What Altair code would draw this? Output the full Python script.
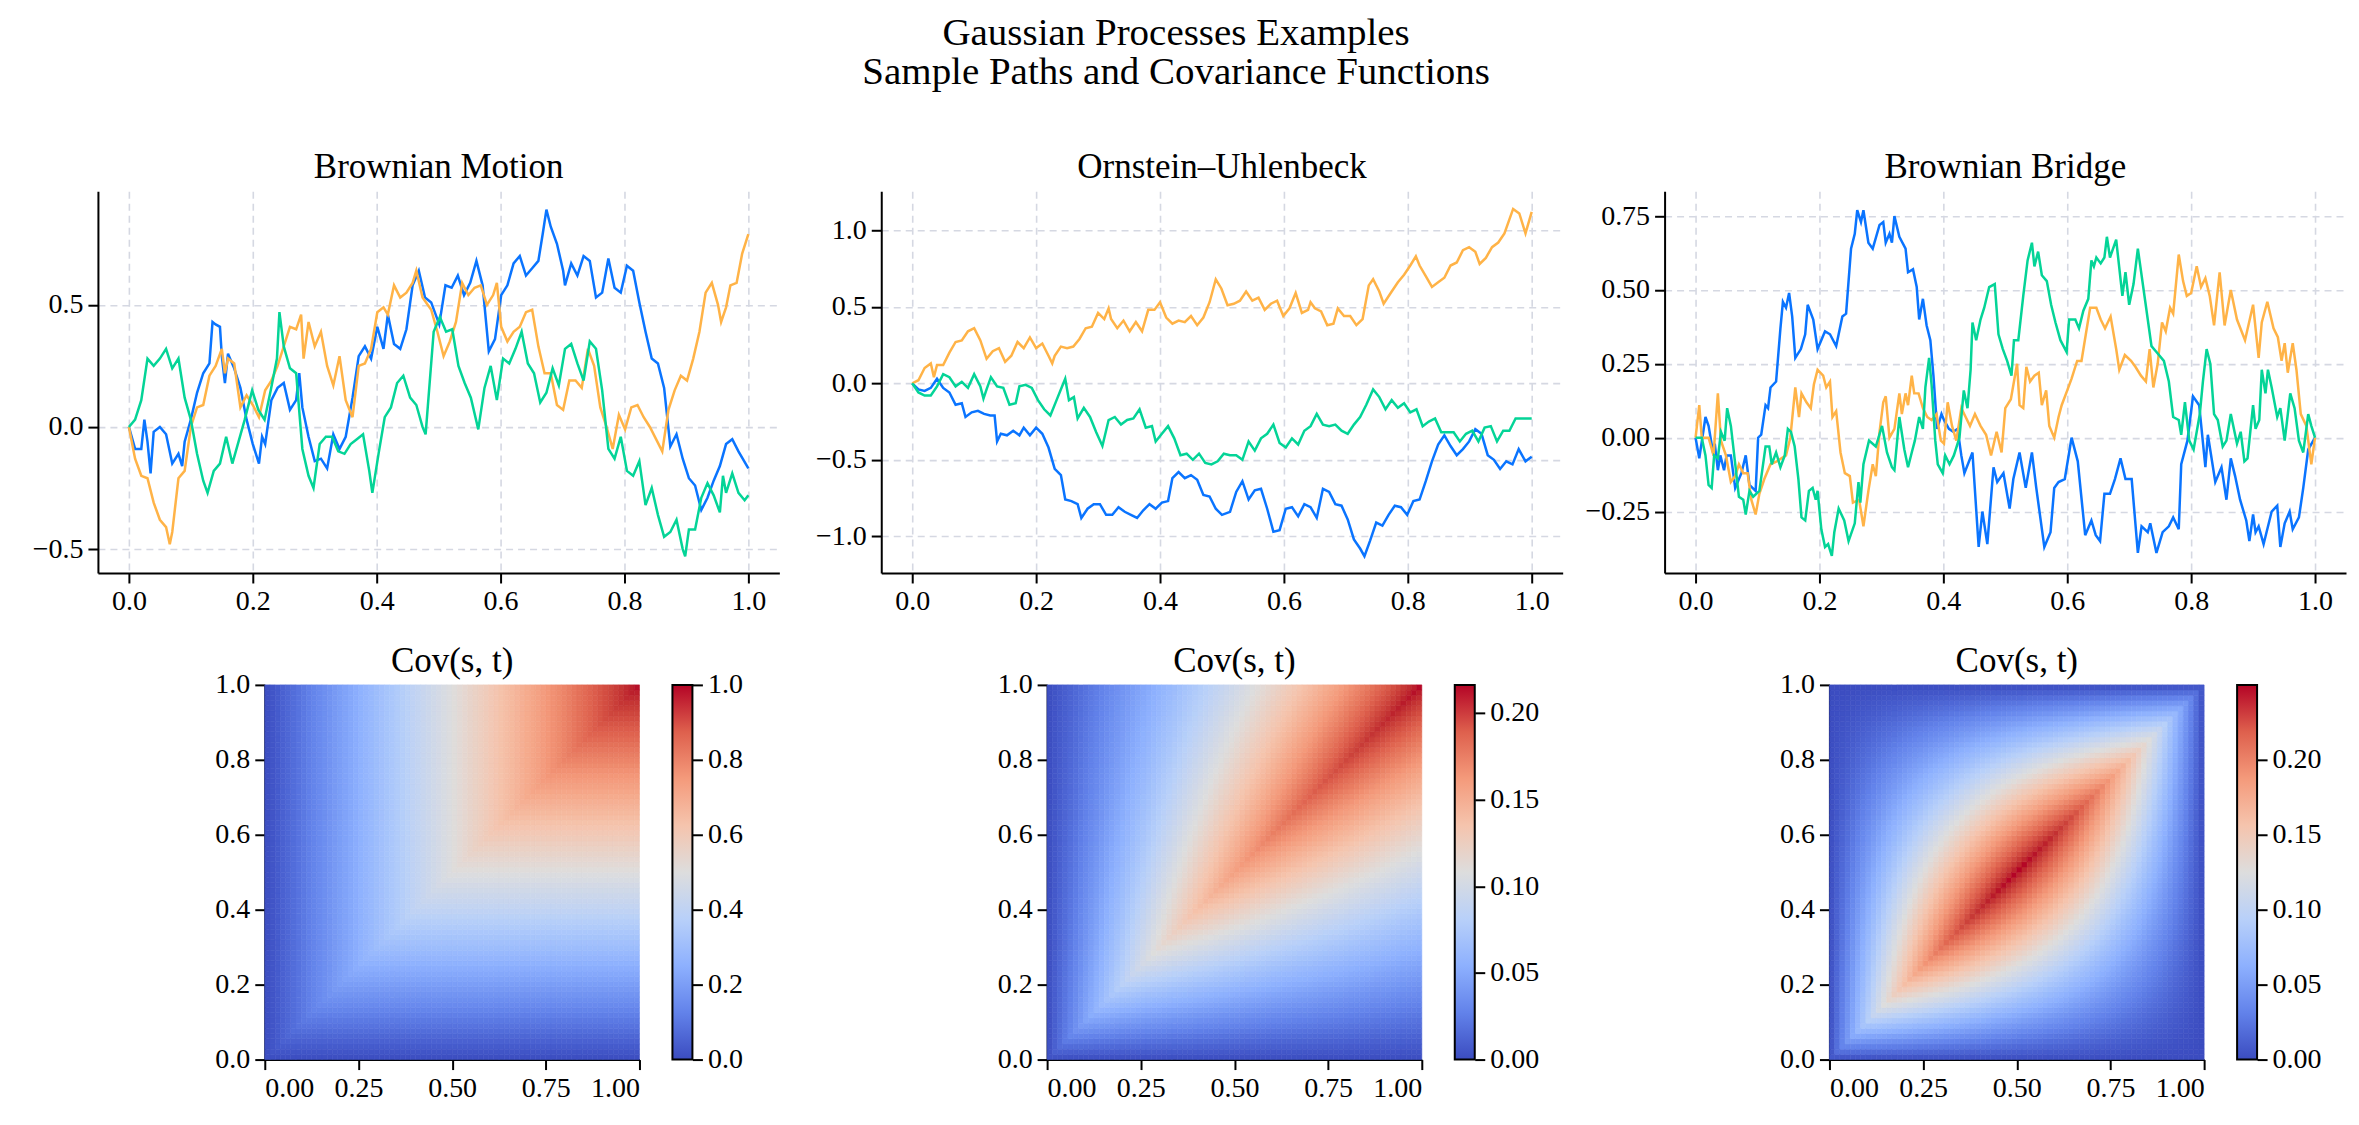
import math
import altair as alt
import pandas as pd

FONT = "Liberation Serif"
BLUE, ORANGE, GREEN = "#0A74FF", "#FFB347", "#04D497"
PATH_NAMES = ["path 1", "path 2", "path 3"]
PATH_COLORS = [BLUE, ORANGE, GREEN]

# ---------------- sample paths: (t, value) ----------------
BM_BLUE = [(0, 0.0), (.01, -.09), (.02, -.09), (.025, .03), (.03, -.06), (.035, -.19), (.04, -.02), (.05, 0.0),
           (.06, -.03), (.07, -.15), (.08, -.11), (.086, -.16), (.09, -.06), (.10, .03), (.11, .14), (.12, .22),
           (.13, .26), (.135, .43), (.14, .42), (.147, .41), (.15, .29), (.155, .18), (.16, .30), (.17, .24),
           (.18, .16), (.19, .03), (.20, -.07), (.21, -.15), (.215, -.04), (.22, -.07), (.23, .11), (.24, .16),
           (.25, .18), (.26, .07), (.27, .11), (.275, .22), (.28, .08), (.29, -.04), (.30, -.14), (.31, -.13),
           (.32, -.17), (.33, -.03), (.34, -.09), (.35, -.04), (.361, .12), (.371, .29), (.381, .33), (.391, .28),
           (.401, .41), (.411, .32), (.418, .46), (.428, .34), (.438, .32), (.448, .40), (.458, .58), (.468, .64),
           (.478, .53), (.488, .51), (.501, .42), (.511, .58), (.521, .57), (.531, .62), (.541, .54), (.551, .59),
           (.561, .68), (.571, .58), (.581, .31), (.591, .36), (.601, .54), (.611, .58), (.621, .67), (.631, .70),
           (.641, .62), (.651, .65), (.661, .68), (.668, .79), (.674, .89), (.681, .82), (.691, .75), (.701, .64),
           (.704, .58), (.714, .67), (.724, .62), (.734, .70), (.744, .68), (.754, .53), (.764, .55), (.774, .69),
           (.784, .57), (.794, .55), (.804, .66), (.814, .64), (.824, .51), (.834, .39), (.844, .28), (.854, .26),
           (.864, .16), (.874, -.08), (.884, -.03), (.894, -.13), (.904, -.21), (.914, -.24), (.924, -.34),
           (.934, -.29), (.944, -.22), (.954, -.16), (.964, -.07), (.974, -.05), (.984, -.10), (1.0, -.17)]
BM_ORANGE = [(0, 0.0), (.01, -.13), (.02, -.20), (.03, -.21), (.04, -.31), (.05, -.38), (.06, -.41), (.066, -.48),
             (.07, -.43), (.08, -.21), (.09, -.18), (.10, 0.0), (.11, .08), (.12, .09), (.13, .21), (.14, .25),
             (.15, .32), (.155, .22), (.16, .28), (.17, .26), (.18, .08), (.19, .13), (.20, .09), (.21, .04),
             (.22, .15), (.23, .19), (.24, .25), (.25, .33), (.26, .41), (.27, .40), (.278, .46), (.282, .28),
             (.29, .43), (.30, .33), (.31, .39), (.32, .25), (.33, .17), (.34, .29), (.35, .11), (.361, .04),
             (.371, .25), (.381, .26), (.391, .32), (.401, .47), (.411, .49), (.418, .46), (.428, .58), (.438, .53),
             (.448, .55), (.458, .59), (.464, .64), (.474, .53), (.488, .48), (.498, .39), (.508, .29), (.518, .35),
             (.528, .43), (.538, .59), (.548, .54), (.558, .57), (.568, .58), (.578, .50), (.588, .54), (.594, .59),
             (.601, .41), (.611, .35), (.621, .39), (.631, .41), (.641, .47), (.651, .48), (.661, .33), (.671, .22),
             (.681, .22), (.691, .09), (.701, .07), (.711, .19), (.721, .19), (.731, .16), (.741, .32), (.751, .25),
             (.761, .08), (.771, 0.0), (.781, -.09), (.791, .05), (.801, -.01), (.811, .08), (.821, .09), (.831, .04),
             (.841, 0.0), (.851, -.05), (.861, -.10), (.871, .07), (.881, .15), (.891, .21), (.901, .19), (.911, .28),
             (.921, .39), (.931, .55), (.941, .59), (.951, .50), (.956, .43), (.964, .49), (.971, .58), (.981, .59),
             (.99, .71), (1.0, .79)]
BM_GREEN = [(0, 0.0), (.01, .03), (.02, .11), (.03, .28), (.04, .25), (.05, .28), (.06, .32), (.07, .24), (.08, .28),
            (.09, .12), (.10, .03), (.11, -.11), (.12, -.22), (.127, -.27), (.137, -.18), (.147, -.15), (.157, -.04),
            (.167, -.15), (.177, -.06), (.187, .03), (.199, .15), (.209, .07), (.219, .03), (.229, .15), (.239, .28),
            (.243, .47), (.25, .33), (.26, .24), (.27, .22), (.28, -.09), (.29, -.20), (.298, -.25), (.308, -.07),
            (.318, -.04), (.328, -.04), (.338, -.10), (.348, -.11), (.358, -.07), (.368, -.05), (.378, -.03),
            (.388, -.18), (.393, -.27), (.403, -.11), (.413, .04), (.423, .08), (.433, .18), (.443, .21), (.454, .12),
            (.464, .09), (.474, 0.0), (.479, -.03), (.492, .39), (.502, .45), (.512, .39), (.522, .40), (.532, .25),
            (.542, .18), (.552, .12), (.564, -.01), (.574, .16), (.584, .25), (.594, .11), (.604, .28), (.614, .26),
            (.624, .32), (.634, .39), (.644, .26), (.654, .22), (.664, .10), (.674, .14), (.684, .24), (.694, .17),
            (.704, .32), (.714, .34), (.724, .26), (.734, .19), (.744, .35), (.754, .32), (.764, .15), (.774, -.09),
            (.784, -.13), (.794, -.04), (.804, -.18), (.814, -.20), (.824, -.14), (.834, -.32), (.844, -.25),
            (.854, -.36), (.864, -.45), (.874, -.43), (.884, -.38), (.894, -.50), (.898, -.53), (.904, -.42),
            (.914, -.42), (.924, -.29), (.934, -.23), (.944, -.28), (.954, -.35), (.959, -.20), (.964, -.27),
            (.974, -.19), (.984, -.27), (.994, -.30), (1.0, -.28)]

OU_BLUE = [(0, 0.0), (.01, -.04), (.02, -.05), (.03, -.03), (.04, .03), (.05, -.03), (.06, -.06), (.07, -.14),
           (.08, -.13), (.086, -.22), (.096, -.19), (.106, -.18), (.116, -.20), (.126, -.21), (.133, -.21),
           (.137, -.38), (.143, -.33), (.153, -.34), (.163, -.31), (.173, -.34), (.18, -.29), (.19, -.34),
           (.20, -.29), (.21, -.33), (.22, -.42), (.23, -.56), (.24, -.60), (.247, -.76), (.257, -.77), (.267, -.79),
           (.273, -.88), (.283, -.82), (.293, -.79), (.303, -.79), (.313, -.86), (.323, -.86), (.333, -.81),
           (.343, -.84), (.353, -.86), (.363, -.88), (.373, -.83), (.383, -.79), (.393, -.82), (.403, -.78),
           (.413, -.77), (.42, -.62), (.43, -.58), (.44, -.62), (.45, -.60), (.46, -.63), (.47, -.73), (.48, -.74),
           (.49, -.82), (.50, -.86), (.513, -.84), (.523, -.71), (.533, -.64), (.543, -.76), (.553, -.70),
           (.563, -.69), (.573, -.82), (.583, -.97), (.593, -.96), (.603, -.82), (.613, -.81), (.623, -.87),
           (.633, -.79), (.643, -.81), (.653, -.88), (.663, -.69), (.673, -.71), (.683, -.79), (.693, -.80),
           (.703, -.89), (.713, -1.02), (.723, -1.08), (.73, -1.13), (.739, -1.03), (.749, -.91), (.759, -.93),
           (.769, -.86), (.779, -.80), (.789, -.81), (.799, -.86), (.809, -.77), (.819, -.76), (.829, -.64),
           (.839, -.51), (.849, -.40), (.859, -.34), (.869, -.41), (.879, -.47), (.889, -.43), (.899, -.38),
           (.909, -.30), (.919, -.33), (.929, -.47), (.939, -.50), (.949, -.56), (.959, -.51), (.969, -.53),
           (.979, -.43), (.99, -.51), (1.0, -.48)]
OU_ORANGE = [(0, 0.0), (.01, .02), (.02, .10), (.03, .13), (.035, .04), (.04, .12), (.05, .12), (.06, .20), (.07, .27),
             (.08, .28), (.09, .34), (.10, .36), (.11, .28), (.12, .16), (.13, .21), (.14, .23), (.15, .14), (.16, .18),
             (.17, .27), (.18, .23), (.19, .30), (.20, .23), (.21, .26), (.22, .18), (.226, .13), (.23, .18),
             (.24, .24), (.25, .23), (.26, .24), (.27, .29), (.28, .36), (.29, .37), (.30, .46), (.31, .42),
             (.317, .49), (.321, .42), (.331, .36), (.341, .41), (.351, .34), (.361, .40), (.371, .34), (.381, .48),
             (.391, .48), (.40, .53), (.41, .43), (.42, .39), (.43, .41), (.44, .40), (.45, .44), (.46, .38),
             (.47, .43), (.48, .53), (.49, .68), (.499, .62), (.509, .51), (.519, .52), (.529, .54), (.539, .60),
             (.549, .54), (.559, .56), (.569, .48), (.579, .52), (.589, .54), (.599, .44), (.609, .49), (.619, .59),
             (.629, .46), (.639, .48), (.643, .53), (.65, .49), (.66, .47), (.67, .38), (.68, .39), (.687, .49),
             (.697, .44), (.707, .44), (.717, .38), (.727, .42), (.737, .64), (.744, .68), (.754, .60), (.761, .52),
             (.774, .60), (.784, .66), (.794, .71), (.804, .77), (.813, .83), (.819, .77), (.829, .70), (.839, .63),
             (.849, .66), (.859, .69), (.869, .77), (.879, .79), (.889, .87), (.899, .89), (.909, .86), (.916, .78),
             (.926, .82), (.936, .89), (.946, .92), (.956, .98), (.97, 1.14), (.98, 1.11), (.99, .98), (1.0, 1.12)]
OU_GREEN = [(0, 0.0), (.01, -.06), (.02, -.08), (.03, -.08), (.04, -.02), (.05, .06), (.06, .04), (.07, -.02),
            (.08, .01), (.09, -.03), (.10, .06), (.11, -.02), (.115, -.10), (.12, -.04), (.127, .04), (.137, -.02),
            (.147, -.03), (.157, -.14), (.167, -.13), (.173, -.02), (.183, -.01), (.193, -.03), (.203, -.11),
            (.213, -.17), (.223, -.21), (.233, -.11), (.243, -.01), (.247, .03), (.253, -.11), (.261, -.09),
            (.267, -.23), (.277, -.16), (.287, -.22), (.297, -.32), (.307, -.41), (.317, -.24), (.327, -.22),
            (.337, -.27), (.347, -.24), (.357, -.23), (.367, -.17), (.377, -.29), (.387, -.28), (.393, -.38),
            (.403, -.33), (.413, -.28), (.423, -.36), (.433, -.47), (.443, -.46), (.453, -.50), (.463, -.46),
            (.473, -.52), (.483, -.53), (.493, -.51), (.503, -.46), (.513, -.47), (.523, -.47), (.533, -.50),
            (.543, -.38), (.553, -.44), (.563, -.36), (.573, -.33), (.583, -.27), (.593, -.39), (.603, -.42),
            (.613, -.36), (.623, -.40), (.633, -.31), (.643, -.28), (.653, -.20), (.663, -.27), (.673, -.28),
            (.683, -.27), (.693, -.31), (.703, -.33), (.713, -.27), (.723, -.22), (.733, -.14), (.744, -.04),
            (.754, -.09), (.764, -.17), (.774, -.11), (.784, -.16), (.794, -.13), (.804, -.19), (.814, -.17),
            (.824, -.28), (.834, -.25), (.844, -.23), (.854, -.32), (.864, -.32), (.874, -.32), (.884, -.38),
            (.894, -.33), (.904, -.31), (.914, -.38), (.924, -.29), (.934, -.28), (.944, -.38), (.954, -.31),
            (.964, -.31), (.974, -.23), (1.0, -.23)]

BB_BLUE = [(0, 0.0), (.006, -.07), (.016, .07), (.021, .04), (.029, -.06), (.031, -.02), (.036, -.11), (.04, -.06),
           (.046, -.11), (.05, -.06), (.057, -.06), (.064, -.17), (.074, -.12), (.081, -.06), (.087, -.16),
           (.097, -.18), (.101, 0.0), (.106, .01), (.113, .11), (.117, .10), (.121, .17), (.13, .19), (.137, .37),
           (.141, .46), (.146, .44), (.151, .49), (.156, .41), (.161, .27), (.17, .30), (.177, .35), (.181, .45),
           (.19, .40), (.197, .30), (.209, .36), (.217, .35), (.227, .31), (.237, .41), (.243, .42), (.251, .64),
           (.257, .69), (.261, .77), (.267, .73), (.271, .77), (.279, .66), (.286, .64), (.297, .72), (.303, .73),
           (.307, .66), (.313, .69), (.317, .66), (.321, .75), (.329, .68), (.339, .64), (.343, .56), (.351, .57),
           (.357, .51), (.361, .40), (.367, .47), (.373, .38), (.379, .33), (.384, .21), (.39, .03), (.397, .08),
           (.401, .06), (.409, .03), (.416, .02), (.423, .03), (.429, -.06), (.434, -.12), (.447, -.05),
           (.457, -.37), (.463, -.25), (.471, -.36), (.481, -.10), (.487, -.15), (.497, -.12), (.507, -.24),
           (.513, -.14), (.523, -.05), (.533, -.17), (.543, -.05), (.55, -.17), (.563, -.37), (.573, -.32),
           (.579, -.17), (.586, -.15), (.596, -.14), (.607, 0.0), (.617, -.08), (.629, -.33), (.639, -.28),
           (.646, -.33), (.653, -.35), (.66, -.19), (.669, -.19), (.677, -.14), (.686, -.07), (.694, -.14),
           (.704, -.14), (.714, -.39), (.72, -.30), (.73, -.32), (.734, -.29), (.744, -.39), (.754, -.32),
           (.764, -.30), (.771, -.27), (.78, -.31), (.784, -.09), (.794, -.01), (.803, .14), (.813, .11),
           (.823, -.10), (.827, .01), (.839, -.15), (.849, -.10), (.857, -.21), (.864, -.07), (.871, -.13),
           (.879, -.21), (.889, -.28), (.894, -.35), (.90, -.26), (.904, -.32), (.909, -.30), (.917, -.36),
           (.93, -.25), (.939, -.23), (.944, -.37), (.951, -.29), (.959, -.25), (.964, -.31), (.974, -.27),
           (.981, -.17), (.989, -.04), (1.0, 0.0)]
BB_ORANGE = [(0, 0.0), (.006, .11), (.01, 0.0), (.016, 0.0), (.021, 0.0), (.029, -.06), (.036, .15), (.041, -.01),
             (.049, -.06), (.057, -.15), (.064, -.13), (.07, -.09), (.077, -.12), (.084, -.12), (.09, -.21),
             (.097, -.26), (.103, -.19), (.111, -.14), (.121, -.09), (.131, -.08), (.146, -.06), (.153, 0.0),
             (.161, .17), (.167, .07), (.171, .15), (.179, .12), (.186, .10), (.191, .18), (.197, .23), (.206, .21),
             (.211, .17), (.217, .19), (.221, .07), (.227, .09), (.234, -.05), (.241, -.12), (.249, -.13),
             (.254, -.22), (.264, -.21), (.271, -.30), (.279, -.18), (.286, -.09), (.291, -.13), (.297, .02),
             (.303, .12), (.307, .14), (.313, 0.0), (.321, .03), (.329, .15), (.333, .08), (.339, .15), (.343, .11),
             (.349, .21), (.353, .15), (.36, .15), (.367, .10), (.374, .07), (.381, .06), (.389, .08), (.396, -.01),
             (.401, -.02), (.407, .12), (.414, .04), (.421, -.01), (.429, .10), (.436, .07), (.443, .04),
             (.451, .08), (.46, .04), (.469, .01), (.477, -.06), (.486, .02), (.494, -.05), (.50, .10), (.509, .13),
             (.519, .25), (.523, .11), (.529, .10), (.534, .24), (.54, .19), (.547, .21), (.554, .22), (.559, .11),
             (.566, .16), (.571, .04), (.579, 0.0), (.586, .07), (.591, .11), (.60, .16), (.607, .20), (.616, .26),
             (.623, .26), (.63, .35), (.637, .44), (.647, .44), (.654, .40), (.661, .37), (.67, .41), (.679, .30),
             (.684, .23), (.693, .28), (.703, .26), (.71, .24), (.719, .21), (.727, .19), (.733, .30), (.739, .17),
             (.746, .25), (.753, .39), (.759, .36), (.766, .44), (.771, .42), (.78, .62), (.787, .53), (.793, .48),
             (.80, .49), (.809, .58), (.816, .51), (.823, .54), (.83, .48), (.837, .38), (.846, .56), (.854, .38),
             (.864, .50), (.874, .40), (.887, .33), (.90, .45), (.909, .27), (.914, .39), (.923, .46), (.933, .37),
             (.94, .34), (.946, .26), (.951, .32), (.956, .22), (.964, .32), (.97, .23), (.977, .08), (.986, .04),
             (.994, -.09), (1.0, 0.0)]
BB_GREEN = [(0, 0.0), (.01, 0.0), (.016, -.06), (.021, -.16), (.026, -.17), (.03, -.06), (.036, -.07), (.041, .02),
            (.047, -.01), (.051, .10), (.057, .04), (.063, -.07), (.07, -.20), (.077, -.21), (.081, -.26),
            (.087, -.18), (.093, -.20), (.103, -.18), (.113, -.03), (.119, -.03), (.123, -.09), (.13, -.05),
            (.137, -.10), (.144, -.06), (.149, .03), (.154, .02), (.16, -.03), (.166, -.14), (.171, -.27),
            (.177, -.28), (.183, -.18), (.189, -.17), (.194, -.21), (.197, -.18), (.203, -.31), (.209, -.37),
            (.214, -.36), (.22, -.40), (.224, -.32), (.231, -.24), (.24, -.28), (.247, -.35), (.257, -.29),
            (.263, -.15), (.266, -.22), (.271, -.09), (.28, -.01), (.291, -.03), (.301, .04), (.309, -.05),
            (.317, -.10), (.321, -.11), (.329, .07), (.337, -.04), (.343, -.10), (.349, -.05), (.354, -.01),
            (.361, .07), (.367, .03), (.371, .17), (.377, .27), (.381, .18), (.387, -.01), (.391, -.09),
            (.399, -.12), (.403, -.06), (.41, -.09), (.417, -.06), (.426, 0.0), (.433, .16), (.439, .10),
            (.444, .23), (.447, .39), (.453, .33), (.46, .40), (.466, .44), (.474, .51), (.483, .52), (.489, .35),
            (.496, .30), (.503, .26), (.51, .21), (.514, .33), (.521, .33), (.529, .48), (.536, .60), (.543, .66),
            (.547, .58), (.553, .63), (.559, .55), (.567, .53), (.574, .45), (.581, .39), (.589, .33), (.599, .29),
            (.603, .40), (.613, .40), (.619, .37), (.626, .43), (.634, .47), (.639, .60), (.643, .58), (.647, .61),
            (.654, .59), (.66, .61), (.664, .68), (.669, .61), (.679, .67), (.689, .48), (.694, .56), (.70, .45),
            (.707, .52), (.714, .64), (.726, .46), (.736, .31), (.744, .29), (.756, .26), (.764, .19), (.771, .07),
            (.78, .06), (.784, .01), (.79, .12), (.797, -.01), (.804, -.04), (.814, .08), (.819, .19), (.825, .30),
            (.831, .25), (.837, .08), (.843, .06), (.851, -.03), (.857, -.01), (.864, .08), (.874, -.02),
            (.88, .02), (.886, -.08), (.891, -.07), (.90, .11), (.904, .03), (.91, .06), (.914, .23), (.92, .15),
            (.924, .23), (.93, .17), (.939, .07), (.944, .10), (.951, -.01), (.96, .15), (.967, .10), (.974, -.01),
            (.981, -.05), (.989, .08), (.994, .04), (1.0, 0.0)]

X_TICKS = [0.0, 0.2, 0.4, 0.6, 0.8, 1.0]
BM_DOMAIN, BM_TICKS = [-0.598, 0.965], [-0.5, 0.0, 0.5]
OU_DOMAIN, OU_TICKS = [-1.24, 1.255], [-1.0, -0.5, 0.0, 0.5, 1.0]
BB_DOMAIN, BB_TICKS = [-0.458, 0.834], [-0.25, 0.0, 0.25, 0.5, 0.75]

# ---------------- covariance functions ----------------
OU_THETA, OU_SIGMA2 = 1.0, 0.5
GRID_N = 72
HEAT_X_TICKS = [0.0, 0.25, 0.5, 0.75, 1.0]
HEAT_Y_TICKS = [0.0, 0.2, 0.4, 0.6, 0.8, 1.0]
BM_CB_TICKS = [0.0, 0.2, 0.4, 0.6, 0.8, 1.0]
OU_CB_TICKS = [0.0, 0.05, 0.10, 0.15, 0.20]
BB_CB_TICKS = [0.0, 0.05, 0.10, 0.15, 0.20]

CW_OFFSETS = [0.0, 0.125, 0.25, 0.375, 0.5, 0.625, 0.75, 0.875, 1.0]
CW_COLORS = ["#3b4cc0", "#6282ea", "#8db0fe", "#b8d0f9", "#dddddd", "#f5c4ad", "#f49a7b", "#de604d", "#b40426"]


def cov_bm(s, t):
    return min(s, t)


def cov_ou(s, t):
    return OU_SIGMA2 / (2 * OU_THETA) * (math.exp(-OU_THETA * abs(t - s)) - math.exp(-OU_THETA * (t + s)))


def cov_bb(s, t):
    return min(s, t) - s * t


PLOT_W, PLOT_H = 682, 382
HEAT_W = HEAT_H = 375
CB_W = 20
TITLE_SIZE = 35


def blank(w):
    return alt.Chart(pd.DataFrame({"a": [0]})).mark_point(opacity=0).encode(
        x=alt.value(0), y=alt.value(0)).properties(width=w, height=HEAT_H)


def path_panel(title, paths, ydomain, yticks, yfmt):
    rows = []
    for name, pts in zip(PATH_NAMES, paths):
        for t, v in pts:
            rows.append({"path": name, "t": t, "v": v})
    df = pd.DataFrame(rows)
    return alt.Chart(df).mark_line(strokeWidth=2.5).encode(
        x=alt.X("t:Q", scale=alt.Scale(domain=[-0.05, 1.05], nice=False, zero=False),
                axis=alt.Axis(values=X_TICKS, format=".1f", title=None, grid=True)),
        y=alt.Y("v:Q", scale=alt.Scale(domain=ydomain, nice=False, zero=False),
                axis=alt.Axis(values=yticks, format=yfmt, title=None, grid=True)),
        color=alt.Color("path:N", scale=alt.Scale(domain=PATH_NAMES, range=PATH_COLORS), legend=None),
    ).properties(width=PLOT_W, height=PLOT_H,
                 title=alt.TitleParams(title, font=FONT, fontSize=TITLE_SIZE, fontWeight="normal", offset=6))


def heat_pair(kernel, vmax, cb_ticks, cb_fmt):
    rows = []
    for i in range(GRID_N):
        for j in range(GRID_N):
            s = (i + 0.5) / GRID_N
            t = (j + 0.5) / GRID_N
            rows.append({"s0": i / GRID_N, "s1": (i + 1) / GRID_N, "t0": j / GRID_N, "t1": (j + 1) / GRID_N,
                         "v": kernel(s, t)})
    df = pd.DataFrame(rows)
    cscale = alt.Scale(domain=[vmax * o for o in CW_OFFSETS], range=CW_COLORS, clamp=True)
    heat = alt.Chart(df).mark_rect(strokeWidth=0.6).encode(
        x=alt.X("s0:Q", scale=alt.Scale(domain=[0, 1], nice=False, zero=False),
                axis=alt.Axis(values=HEAT_X_TICKS, format=".2f", title=None, grid=False)),
        x2="s1:Q",
        y=alt.Y("t0:Q", scale=alt.Scale(domain=[0, 1], nice=False, zero=False),
                axis=alt.Axis(values=HEAT_Y_TICKS, format=".1f", title=None, grid=False)),
        y2="t1:Q",
        color=alt.Color("v:Q", scale=cscale, legend=None),
        stroke=alt.Stroke("v:Q", scale=cscale, legend=None),
    ).properties(width=HEAT_W, height=HEAT_H,
                 title=alt.TitleParams("Cov(s, t)", font=FONT, fontSize=TITLE_SIZE, fontWeight="normal", offset=-8))
    grad = alt.Gradient(gradient="linear",
                        stops=[alt.GradientStop(offset=o, color=c) for o, c in zip(CW_OFFSETS, CW_COLORS)],
                        x1=0, x2=0, y1=1, y2=0)
    cb = alt.Chart(pd.DataFrame({"lo": [0.0], "hi": [vmax]})).mark_rect(
        fill=grad, stroke="black", strokeWidth=2).encode(
        x=alt.value(0), x2=alt.value(CB_W),
        y=alt.Y("lo:Q", scale=alt.Scale(domain=[0, vmax], nice=False, zero=False),
                axis=alt.Axis(orient="right", values=cb_ticks, format=cb_fmt, title=None, grid=False,
                              domain=False)),
        y2="hi:Q",
    ).properties(width=CB_W, height=HEAT_H)
    return [heat, cb]


top = alt.hconcat(
    path_panel("Brownian Motion", [BM_BLUE, BM_ORANGE, BM_GREEN], BM_DOMAIN, BM_TICKS, ".1f"),
    path_panel("Ornstein\u2013Uhlenbeck", [OU_BLUE, OU_ORANGE, OU_GREEN], OU_DOMAIN, OU_TICKS, ".1f"),
    path_panel("Brownian Bridge", [BB_BLUE, BB_ORANGE, BB_GREEN], BB_DOMAIN, BB_TICKS, ".2f"),
    spacing=102, bounds="flush")

GAP = 33
bottom_items = ([blank(134)] + heat_pair(cov_bm, 1.0, BM_CB_TICKS, ".1f") + [blank(289)]
                + heat_pair(cov_ou, cov_ou(1.0, 1.0), OU_CB_TICKS, ".2f") + [blank(289)]
                + heat_pair(cov_bb, 0.25, BB_CB_TICKS, ".2f"))
bottom = alt.hconcat(*bottom_items, spacing=GAP, bounds="flush").resolve_scale(
    color="independent", stroke="independent", x="independent", y="independent")

chart = alt.vconcat(top, bottom, spacing=28).resolve_scale(
    color="independent", stroke="independent", x="independent", y="independent").properties(
    title=alt.TitleParams(["Gaussian Processes Examples", "Sample Paths and Covariance Functions"],
                          font=FONT, fontSize=39, fontWeight="normal", anchor="middle", lineHeight=39,
                          offset=58, dx=-13, color="black"),
    padding={"left": 24, "top": 6, "right": 5, "bottom": 5},
).configure_view(stroke=None).configure_axis(
    labelFont=FONT, labelFontSize=28, labelColor="black", tickColor="black", domainColor="black",
    tickSize=10, tickWidth=2, domainWidth=2, labelPadding=5,
    gridColor="#d5d8e2", gridDash=[7, 5], gridWidth=1.6,
).configure_title(color="black")

chart.save("out.html", embed_options={"renderer": "svg", "actions": False})
